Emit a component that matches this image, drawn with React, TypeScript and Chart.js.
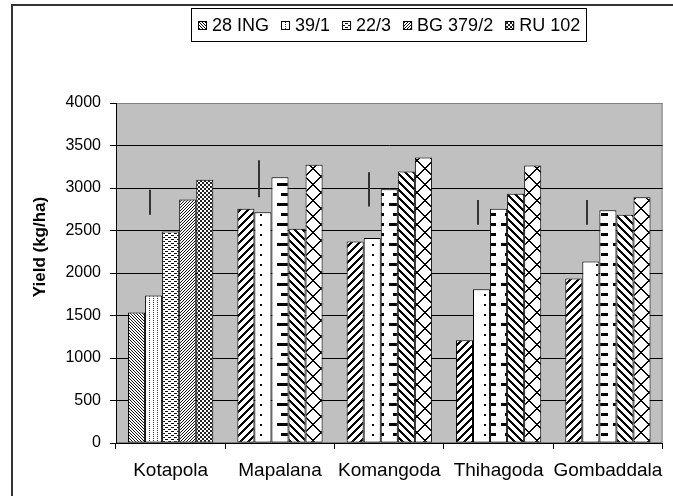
import React, { useEffect, useRef } from 'react';
import { Chart, registerables } from 'chart.js';

Chart.register(...registerables);

const categories = ['Kotapola', 'Mapalana', 'Komangoda', 'Thihagoda', 'Gombaddala'];
const seriesNames = ['28 ING', '39/1', '22/3', 'BG 379/2', 'RU 102'];
const ing28 = [1536, 2757, 2370, 1210, 1935];
const v391 = [1736, 2714, 2413, 1808, 2134];
const v223 = [2489, 3127, 2986, 2757, 2739];
const bg3792 = [2866, 2522, 3195, 2931, 2685];
const ru102 = [3098, 3275, 3360, 3264, 2890];
const lsdLow = [2685, 2891, 2783, 2568, 2568];
const lsdHigh = [2978, 3326, 3185, 2859, 2859];
const yMin = 0;
const yMax = 4000;
const yStep = 500;
const yTitle = 'Yield (kg/ha)';

const FONT = '"Liberation Sans", Arial, sans-serif';

function makePattern(ctx: CanvasRenderingContext2D, w: number, h: number, fn: (x: number, y: number) => boolean, color = '#000') {
  const c = document.createElement('canvas');
  c.width = w;
  c.height = h;
  const g = c.getContext('2d')!;
  g.fillStyle = '#fff';
  g.fillRect(0, 0, w, h);
  g.fillStyle = color;
  for (let y = 0; y < h; y++) {
    for (let x = 0; x < w; x++) {
      if (fn(x, y)) g.fillRect(x, y, 1, 1);
    }
  }
  return ctx.createPattern(c, 'repeat') as CanvasPattern;
}

const mod = (a: number, m: number) => ((a % m) + m) % m;

export default function App() {
  const ref = useRef<HTMLCanvasElement>(null);

  useEffect(() => {
    const canvas = ref.current!;
    const ctx = canvas.getContext('2d')!;
    Chart.defaults.font.family = FONT;

    const fine = [
      makePattern(ctx, 3, 3, (x, y) => mod(x - y, 3) === 0, '#111'),
      makePattern(ctx, 4, 4, (x, y) => x === 1 && y % 2 === 0, '#333'),
      makePattern(ctx, 6, 4, (x, y) => (y === 1 && x < 3) || (y === 3 && x >= 3), '#111'),
      makePattern(ctx, 3, 3, (x, y) => mod(x + y, 3) === 0, '#111'),
      makePattern(ctx, 4, 4, (x, y) => ((x >> 1) + (y >> 1)) % 2 === 0, '#222'),
    ];
    const coarse = [
      makePattern(ctx, 8, 8, (x, y) => mod(x + y, 8) <= 2),
      makePattern(ctx, 16, 10, (x, y) => (x === 4 || x === 5) && (y === 4 || y === 5)),
      makePattern(ctx, 16, 20, (x, y) => (y >= 3 && y <= 5 && x >= 5) || (y >= 13 && y <= 15 && x >= 9)),
      makePattern(ctx, 8, 8, (x, y) => mod(x - y, 8) <= 2),
      makePattern(ctx, 16, 16, (x, y) => mod(x - y, 16) <= 1 || mod(x + y, 16) <= 1),
    ];

    const seriesData = [ing28, v391, v223, bg3792, ru102];
    const datasets = seriesNames.map((name, s) => ({
      label: name,
      data: seriesData[s],
      backgroundColor: categories.map((_, i) => (i === 0 ? fine[s] : coarse[s])),
      borderColor: '#000',
      borderWidth: 1,
      borderSkipped: false as const,
      categoryPercentage: 0.78,
      barPercentage: 1.0,
    }));

    const backgroundPlugin = {
      id: 'bgPlot',
      beforeDraw(chart: any) {
        const { ctx: c, chartArea: ca } = chart;
        c.save();
        c.fillStyle = '#fff';
        c.fillRect(0, 0, chart.width, chart.height);
        c.fillStyle = '#c0c0c0';
        c.fillRect(ca.left, ca.top, ca.right - ca.left, ca.bottom - ca.top);
        c.strokeStyle = '#808080';
        c.lineWidth = 1;
        c.strokeRect(ca.left + 0.5, ca.top + 0.5, ca.right - ca.left - 1, ca.bottom - ca.top - 1);
        c.restore();
      },
      afterDraw(chart: any) {
        const c = chart.ctx;
        c.save();
        c.fillStyle = '#333';
        c.fillRect(11, 4, chart.width, 2);
        c.fillRect(11, 4, 2, chart.height);
        // y-axis title
        c.translate(40, 247);
        c.rotate(-Math.PI / 2);
        c.font = `bold 17px ${FONT}`;
        c.fillStyle = '#000';
        c.textAlign = 'center';
        c.textBaseline = 'middle';
        c.fillText(yTitle, 0, 0);
        c.restore();
      },
    };

    const lsdPlugin = {
      id: 'lsd',
      afterDatasetsDraw(chart: any) {
        const c = chart.ctx;
        const xs = chart.scales.x;
        const ys = chart.scales.y;
        const catW = xs.width / categories.length;
        c.save();
        c.strokeStyle = '#333';
        c.lineWidth = 2;
        categories.forEach((_, i) => {
          const px = Math.round(xs.getPixelForValue(i) - 0.19 * catW);
          c.beginPath();
          c.moveTo(px, ys.getPixelForValue(lsdHigh[i]));
          c.lineTo(px, ys.getPixelForValue(lsdLow[i]));
          c.stroke();
        });
        c.restore();
      },
    };

    const legendPlugin = {
      id: 'boxLegend',
      afterDraw(chart: any) {
        const c = chart.ctx;
        const ca = chart.chartArea;
        c.save();
        c.font = `18px ${FONT}`;
        const box = 9;
        const gapBT = 5;
        const gapItem = 12;
        const padX = 7;
        const widths = seriesNames.map((n) => c.measureText(n).width);
        const total = widths.reduce((a, w) => a + box + gapBT + w, 0) + gapItem * (seriesNames.length - 1) + padX * 2;
        const cx = (ca.left + ca.right) / 2;
        const left = Math.round(cx - total / 2);
        const top = 8;
        const h = 34;
        const cy = top + h / 2;
        c.fillStyle = '#fff';
        c.fillRect(left, top, Math.round(total), h);
        c.strokeStyle = '#000';
        c.lineWidth = 1;
        c.strokeRect(left + 0.5, top + 0.5, Math.round(total) - 1, h - 1);
        let x = left + padX;
        seriesNames.forEach((n, i) => {
          const by = Math.round(cy - box / 2);
          c.fillStyle = fine[i];
          c.fillRect(x, by, box, box);
          c.strokeRect(x + 0.5, by + 0.5, box - 1, box - 1);
          c.fillStyle = '#000';
          c.textBaseline = 'middle';
          c.textAlign = 'left';
          c.fillText(n, x + box + gapBT, cy + 1);
          x += box + gapBT + widths[i] + gapItem;
        });
        c.restore();
      },
    };

    const chart = new Chart(canvas, {
      type: 'bar',
      data: { labels: categories, datasets: datasets as any },
      options: {
        responsive: false,
        animation: false,
        devicePixelRatio: 1,
        layout: { padding: { left: 0, right: 7, top: 103, bottom: 0 } },
        plugins: {
          legend: { display: false },
          tooltip: { enabled: false },
        },
        scales: {
          x: {
            grid: { display: true, drawOnChartArea: false, drawTicks: true, tickLength: 6, color: '#000', offset: true },
            border: { display: true, color: '#000', width: 1 },
            ticks: { color: '#000', font: { size: 19 }, padding: 10, maxRotation: 0, autoSkip: false },
            afterFit: (s: any) => {
              s.height = 53;
            },
          },
          y: {
            min: yMin,
            max: yMax,
            ticks: {
              stepSize: yStep,
              color: '#000',
              font: { size: 16 },
              padding: 9,
              callback: (v: any) => String(v),
            },
            grid: {
              color: (c: any) => (c.tick && c.tick.value === yMax ? '#808080' : '#000'),
              tickColor: '#000',
              tickLength: 6,
              drawTicks: true,
            },
            border: { display: true, color: '#000', width: 1 },
            title: { display: false },
            afterFit: (s: any) => {
              s.width = 116;
            },
          },
        },
      } as any,
      plugins: [backgroundPlugin, lsdPlugin, legendPlugin],
    });
    return () => chart.destroy();
  }, []);

  return (
    <div style={{ position: 'fixed', left: 0, top: 0, width: 673, height: 496, background: '#fff' }}>
      <canvas ref={ref} width={673} height={496} style={{ display: 'block', width: 673, height: 496 }} />
    </div>
  );
}
